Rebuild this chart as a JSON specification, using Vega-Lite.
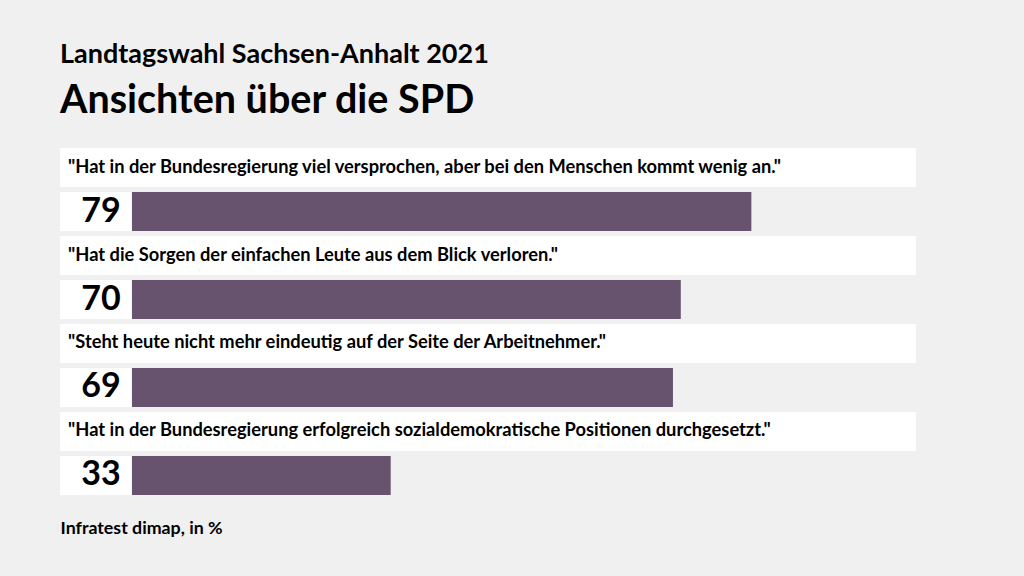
{
  "$schema": "https://vega.github.io/schema/vega-lite/v6.json",
  "width": 856,
  "height": 347,
  "autosize": "none",
  "padding": {"left": 60, "top": 148, "right": 108, "bottom": 81},
  "background": "#f0f0f0",
  "config": {"view": {"stroke": null}, "font": "Lato"},
  "title": {
    "text": "Landtagswahl Sachsen-Anhalt 2021",
    "subtitle": "Ansichten über die SPD",
    "anchor": "start",
    "frame": "group",
    "font": "Lato",
    "fontSize": 27,
    "fontWeight": "bold",
    "color": "#000000",
    "subtitleFont": "Lato",
    "subtitleFontSize": 39.5,
    "subtitleFontWeight": "bold",
    "subtitleColor": "#000000",
    "subtitlePadding": 13,
    "offset": 27
  },
  "data": {
    "values": [
      {"id": 1, "part": "Aussage", "question": "\"Hat in der Bundesregierung viel versprochen, aber bei den Menschen kommt wenig an.\""},
      {"id": 1, "part": "Wert", "value": 79},
      {"id": 2, "part": "Aussage", "question": "\"Hat die Sorgen der einfachen Leute aus dem Blick verloren.\""},
      {"id": 2, "part": "Wert", "value": 70},
      {"id": 3, "part": "Aussage", "question": "\"Steht heute nicht mehr eindeutig auf der Seite der Arbeitnehmer.\""},
      {"id": 3, "part": "Wert", "value": 69},
      {"id": 4, "part": "Aussage", "question": "\"Hat in der Bundesregierung erfolgreich sozialdemokratische Positionen durchgesetzt.\""},
      {"id": 4, "part": "Wert", "value": 33}
    ]
  },
  "encoding": {
    "y": {"field": "id", "type": "ordinal", "axis": null, "scale": {"paddingInner": 0.0568, "paddingOuter": 0}},
    "yOffset": {"field": "part", "type": "nominal", "scale": {"domain": ["Aussage", "Wert"], "paddingInner": 0.1136, "paddingOuter": 0}}
  },
  "layer": [
    {
      "transform": [{"filter": "datum.part === 'Aussage'"}],
      "mark": {"type": "rect", "color": "#ffffff"},
      "encoding": {
        "x": {"datum": -9.18, "type": "quantitative", "scale": {"domain": [-9.18, 100], "nice": false, "zero": false},
              "axis": {"title": "Infratest dimap, in %", "titleAnchor": "start", "titleFont": "Lato", "titleFontSize": 17.8, "titleFontWeight": "bold", "titleColor": "#000000", "titlePadding": 24, "labels": false, "ticks": false, "domain": false, "grid": false, "offset": 0}},
        "x2": {"datum": 100}
      }
    },
    {
      "transform": [{"filter": "datum.part === 'Aussage'"}],
      "mark": {"type": "text", "align": "left", "baseline": "middle", "fontSize": 18.3, "fontWeight": "bold", "font": "Lato", "color": "#000000"},
      "encoding": {
        "x": {"datum": -8.15, "type": "quantitative"},
        "text": {"field": "question", "type": "nominal"}
      }
    },
    {
      "transform": [{"filter": "datum.part === 'Wert'"}],
      "mark": {"type": "rect", "color": "#ffffff"},
      "encoding": {
        "x": {"datum": -9.18, "type": "quantitative"},
        "x2": {"datum": -0.05}
      }
    },
    {
      "transform": [{"filter": "datum.part === 'Wert'"}],
      "mark": {"type": "rect", "color": "#67536e"},
      "encoding": {
        "x": {"field": "value", "type": "quantitative"},
        "x2": {"datum": 0}
      }
    },
    {
      "transform": [{"filter": "datum.part === 'Wert'"}],
      "mark": {"type": "text", "align": "right", "baseline": "middle", "fontSize": 34, "fontWeight": "bold", "font": "Lato", "color": "#000000"},
      "encoding": {
        "x": {"datum": -1.44, "type": "quantitative"},
        "text": {"field": "value", "type": "quantitative"}
      }
    }
  ]
}
